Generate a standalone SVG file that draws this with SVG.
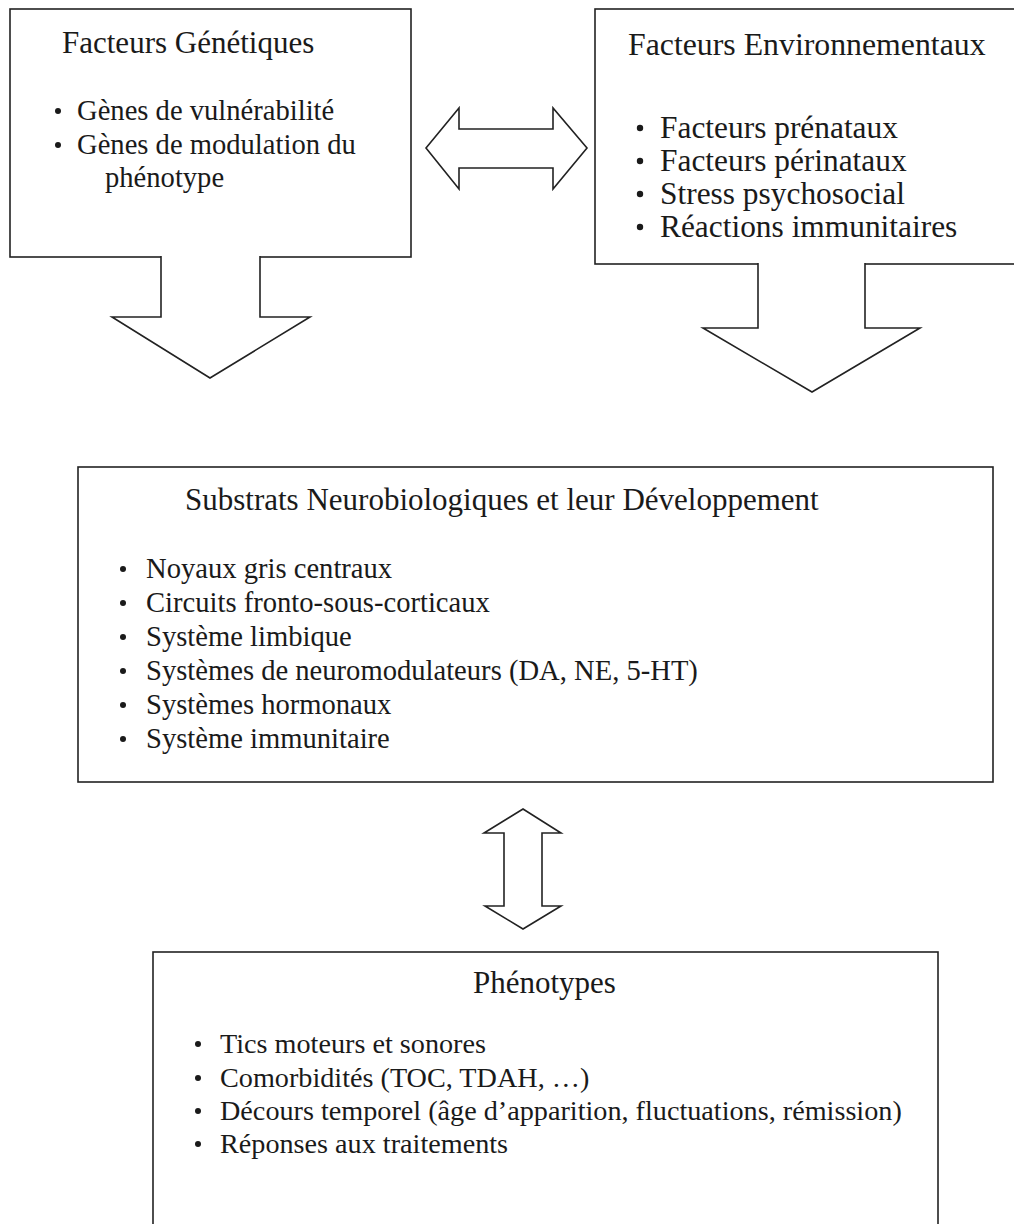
<svg xmlns="http://www.w3.org/2000/svg" width="1014" height="1224" viewBox="0 0 1014 1224">
<style>
.box{fill:#fff;stroke:#222;stroke-width:1.6}
.arr{fill:#fff;stroke:#222;stroke-width:1.6;stroke-linejoin:miter}
text{font-family:"Liberation Serif","Times New Roman",serif;fill:#1a1a1a}
.t{font-size:31px}
.tr{font-size:31.8px}
.b{font-size:28.6px}
.bp{font-size:28.2px}
.bl{font-size:31.4px}
.dot{fill:#1a1a1a}
</style>
<rect width="1014" height="1224" fill="#fff"/>
<g id="genetiques">
<rect class="box" x="10" y="9" width="401" height="248"/>
<text class="t" x="62" y="53">Facteurs Génétiques</text>
<circle class="dot" cx="58" cy="111" r="3"/>
<text class="b" x="77" y="120">Gènes de vulnérabilité</text>
<circle class="dot" cx="58" cy="145" r="3"/>
<text class="b" x="77" y="154">Gènes de modulation du</text>
<text class="b" x="105" y="187">phénotype</text>
</g>
<g id="environnementaux">
<rect class="box" x="595" y="9" width="420" height="255"/>
<text class="tr" x="628" y="55">Facteurs Environnementaux</text>
<circle class="dot" cx="640" cy="128" r="3.2"/>
<text class="bl" x="660" y="138">Facteurs prénataux</text>
<circle class="dot" cx="640" cy="161" r="3.2"/>
<text class="bl" x="660" y="171">Facteurs périnataux</text>
<circle class="dot" cx="640" cy="194" r="3.2"/>
<text class="bl" x="660" y="204">Stress psychosocial</text>
<circle class="dot" cx="640" cy="227" r="3.2"/>
<text class="bl" x="660" y="237">Réactions immunitaires</text>
</g>
<g id="substrats">
<rect class="box" x="78" y="467" width="915" height="315"/>
<text class="t" x="185" y="510">Substrats Neurobiologiques et leur Développement</text>
<circle class="dot" cx="123" cy="569" r="3"/>
<text class="b" x="146" y="578">Noyaux gris centraux</text>
<circle class="dot" cx="123" cy="603" r="3"/>
<text class="b" x="146" y="612">Circuits fronto-sous-corticaux</text>
<circle class="dot" cx="123" cy="637" r="3"/>
<text class="b" x="146" y="646">Système limbique</text>
<circle class="dot" cx="123" cy="671" r="3"/>
<text class="b" x="146" y="680">Systèmes de neuromodulateurs (DA, NE, 5-HT)</text>
<circle class="dot" cx="123" cy="705" r="3"/>
<text class="b" x="146" y="714">Systèmes hormonaux</text>
<circle class="dot" cx="123" cy="739" r="3"/>
<text class="b" x="146" y="748">Système immunitaire</text>
</g>
<g id="phenotypes">
<rect class="box" x="153" y="952" width="785" height="290"/>
<text class="t" x="473" y="993">Phénotypes</text>
<circle class="dot" cx="198" cy="1044" r="3"/>
<text class="bp" x="220" y="1053">Tics moteurs et sonores</text>
<circle class="dot" cx="198" cy="1078" r="3"/>
<text class="bp" x="220" y="1087">Comorbidités (TOC, TDAH, …)</text>
<circle class="dot" cx="198" cy="1111" r="3"/>
<text class="bp" x="220" y="1120">Décours temporel (âge d’apparition, fluctuations, rémission)</text>
<circle class="dot" cx="198" cy="1144" r="3"/>
<text class="bp" x="220" y="1153">Réponses aux traitements</text>
</g>
<g id="connectors">
<polyline class="arr" points="161,256 161,317 112,317 210,378 310,317 260,317 260,256"/>
<polyline class="arr" points="758,263 758,328 703,328 812,392 920,328 865,328 865,263"/>
<polygon class="arr" points="426,148 459,108 459,129 553,129 553,108 587,148 553,189 553,168 459,168 459,189"/>
<polygon class="arr" points="523,809 561,833 542,833 542,906 561,906 523,929 485,906 504,906 504,833 484,833"/>
</g>
</svg>
